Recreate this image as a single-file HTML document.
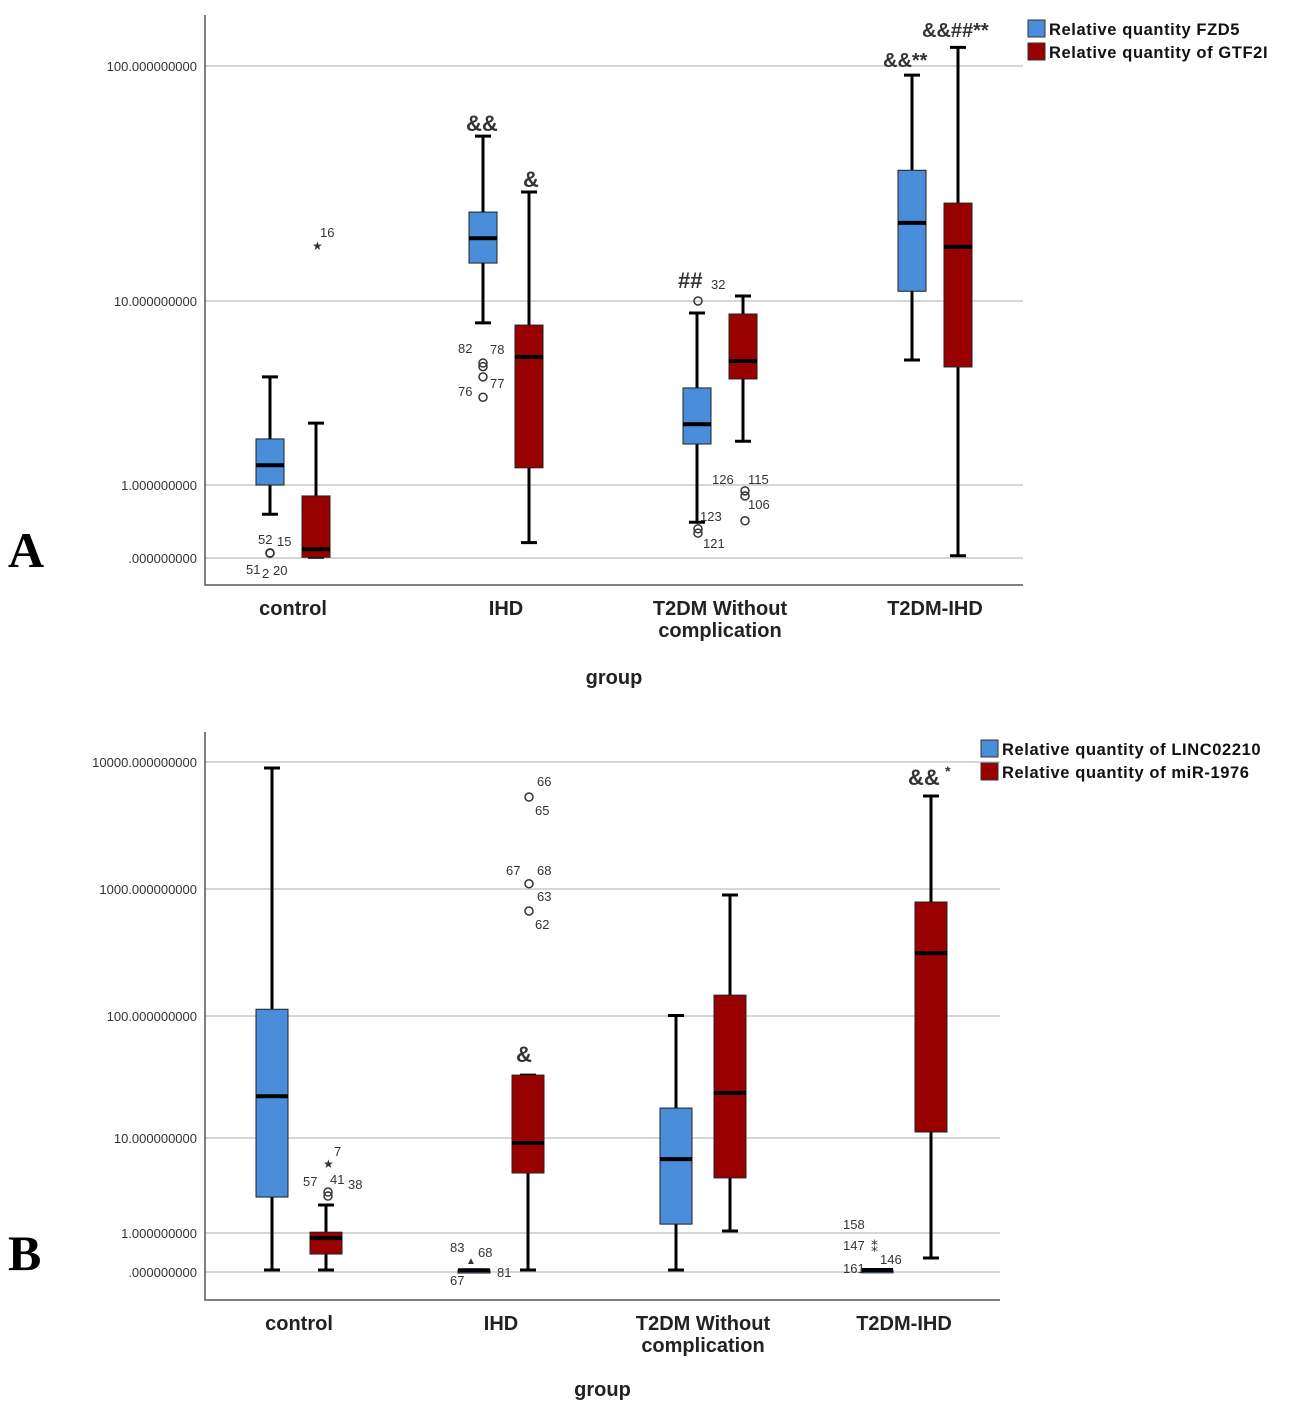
<!DOCTYPE html>
<html><head><meta charset="utf-8"><style>
body{margin:0;background:#fff;}
svg{display:block;font-family:"Liberation Sans",Arial,sans-serif;}
</style></head><body>
<svg id="s" width="1303" height="1408" viewBox="0 0 1303 1408" xmlns="http://www.w3.org/2000/svg"></svg>
<script>
// ---- Panel A data ----
const groupsA = ["control","IHD","T2DM Without|complication","T2DM-IHD"];
const fzd5 = [[0.6,1.0,1.28,1.78,3.87],[7.6,14.5,18.5,23.9,50.3],[0.49,1.67,2.14,3.37,8.6],[4.78,11,21.5,36,91.5]];
const gtf2i = [[0.01,0.01,0.12,0.85,2.17],[0.21,1.24,4.96,7.4,29.1],[1.73,3.77,4.72,8.5,10.5],[0.03,4.38,17,26.1,120]];
const ticksA = [0,1,10,100];
const tickLabA = [".000000000","1.000000000","10.000000000","100.000000000"];
const outA = [[0,0.07,"o"],[0,0.065,"o"],[1,4.6,"o"],[1,4.4,"o"],[1,3.87,"o"],[1,3.0,"o"],[2,10,"o"],[2,0.4,"o"],[2,0.34,"o"],[3,0.92,"o"],[3,0.85,"o"],[3,0.51,"o"]];
// ---- Panel B data ----
const groupsB = ["control","IHD","T2DM Without|complication","T2DM-IHD"];
const linc = [[0.05,2.39,22,113,8970],[0.04,0.04,0.045,0.05,0.055],[0.05,1.24,6.0,17.6,101],[0.04,0.045,0.05,0.055,0.06]];
const mir = [[0.05,0.46,0.87,1.02,1.97],[0.05,4.28,8.86,32.8,32.8],[1.05,3.8,23.4,146,897],[0.36,11.2,313,790,5400]];
const ticksB = [0,1,10,100,1000,10000];
const tickLabB = [".000000000","1.000000000","10.000000000","100.000000000","1000.000000000","10000.000000000"];

const S=document.getElementById('s');
const NS="http://www.w3.org/2000/svg";
function el(t,a,txt){const e=document.createElementNS(NS,t);for(const k in a)e.setAttribute(k,a[k]);if(txt!=null)e.textContent=txt;S.appendChild(e);return e;}
function axisFn(tv,tp){return v=>{if(v<=tv[1])return tp[0]+(tp[1]-tp[0])*v/tv[1];
 for(let i=1;i<tv.length-1;i++){if(v<=tv[i+1]||i==tv.length-2){const f=(Math.log10(v)-Math.log10(tv[i]))/(Math.log10(tv[i+1])-Math.log10(tv[i]));return tp[i]+(tp[i+1]-tp[i])*f;}}};}
const yA=axisFn(ticksA,[558,485,301,66]);
const yB=axisFn(ticksB,[1272,1233,1138,1016,889,762]);
const BLUE="#4a8ddb",RED="#990000";

function panel(P){
 let e=el('rect',{x:P.x0,y:P.y0,width:P.x1-P.x0,height:P.y1-P.y0,fill:'none',stroke:'none'});
 
 P.ticks.forEach((t,i)=>{const y=P.y(t);
  e=el('line',{x1:P.x0,x2:P.x1,y1:y,y2:y,stroke:'#c8c8c8','stroke-width':1.5});
  
  e=el('text',{x:P.x0-8,y:y+5,'text-anchor':'end','font-size':13,fill:'#333'},P.tlab[i]);
  
 });
 e=el('path',{d:`M${P.x0} ${P.y0}V${P.y1}H${P.x1}`,fill:'none',stroke:'#555','stroke-width':1.5});
 
 P.groups.forEach((g,i)=>{const cx=P.cx[i];const lines=g.split('|');
  lines.forEach((l,j)=>{e=el('text',{x:cx,y:P.y1+30+j*22,'text-anchor':'middle','font-size':20,'font-weight':'bold',fill:'#222'},l);
   });
  [[P.s1,-P.off,BLUE],[P.s2,P.off,RED]].forEach(([s,o,c])=>{const d=s[i];const x=cx+o,w=P.bw;
   e=el('path',{d:`M${x} ${P.y(d[0])}V${P.y(d[1])}M${x} ${P.y(d[3])}V${P.y(d[4])}M${x-8} ${P.y(d[0])}H${x+8}M${x-8} ${P.y(d[4])}H${x+8}`,stroke:'#000','stroke-width':3});
   
   e=el('rect',{x:x-w/2,y:P.y(d[3]),width:w,height:Math.max(3,P.y(d[1])-P.y(d[3])),fill:c,stroke:'#222','stroke-width':1});
   
   e=el('line',{x1:x-w/2,x2:x+w/2,y1:P.y(d[2]),y2:P.y(d[2]),stroke:'#000','stroke-width':4});
   
  });
 });
 e=el('text',{x:(P.x0+P.x1)/2+0,y:P.gy,'text-anchor':'middle','font-size':20,'font-weight':'bold',fill:'#222'},'group');
 
 e=el('text',{x:8,y:P.ly,'font-size':50,'font-weight':'bold','font-family':'Liberation Serif,serif'},P.letter);
 
 P.leg.forEach((t,j)=>{const y=P.legY+j*23;
  e=el('rect',{x:P.legX,y:y,width:17,height:17,fill:j?RED:BLUE,stroke:'#333'});
  
  e=el('text',{x:P.legX+21,y:y+15,'font-size':16.5,'font-weight':'bold',fill:'#111','letter-spacing':0.6},t);
  
 });
}
const PA={id:'a',x0:205,x1:1023,y0:15,y1:585,y:yA,ticks:ticksA,tlab:tickLabA,groups:groupsA,cx:[293,506,720,935],off:23,bw:28,s1:fzd5,s2:gtf2i,gy:684,ly:567,letter:'A',legX:1028,legY:20,leg:['Relative quantity FZD5','Relative quantity of GTF2I']};
const PB={id:'b',x0:205,x1:1000,y0:732,y1:1300,y:yB,ticks:ticksB,tlab:tickLabB,groups:groupsB,cx:[299,501,703,904],off:27,bw:32,s1:linc,s2:mir,gy:1396,ly:1270,letter:'B',legX:981,legY:740,leg:['Relative quantity of  LINC02210','Relative quantity of  miR-1976']};
panel(PA);panel(PB);
function ann(x,y,t,fs,nm,b){const e=el('text',{x:x,y:y,'font-size':fs||13,fill:'#333','font-weight':b?'bold':'normal'},t);}
function circ(x,y){const e=el('circle',{cx:x,cy:y,r:4,fill:'none',stroke:'#333','stroke-width':1.5});}
// Panel A outliers
const oxA=[270,483,698,745];
outA.forEach(o=>circ(o[0]==3?745:oxA[o[0]],yA(o[1])));
ann(312,250,'★',12,'extreme-point');ann(320,237,'16');
ann(258,544,'52');ann(277,546,'15');ann(246,574,'51');ann(262,578,'2');ann(273,575,'20');
ann(458,353,'82');ann(490,354,'78');ann(490,388,'77');ann(458,396,'76');
ann(711,289,'32');ann(700,521,'123');ann(703,548,'121');ann(712,484,'126');ann(748,484,'115');ann(748,509,'106');
// Panel A significance
ann(466,131,'&&',22,'significance-mark',1);ann(523,187,'&',22,'significance-mark',1);ann(678,288,'##',22,'significance-mark',1);
ann(883,67,'&&**',20,'significance-mark',1);ann(922,37,'&&##**',20,'significance-mark',1);
// Panel B outliers
circ(328,yB(2.7));circ(328,yB(2.45));ann(323,1168,'★',12,'extreme-point');
ann(334,1156,'7');ann(303,1186,'57');ann(330,1184,'41');ann(348,1189,'38');
[5300,1100,671].forEach(v=>circ(529,yB(v)));
ann(537,786,'66');ann(535,815,'65');ann(506,875,'67');ann(537,875,'68');ann(537,901,'63');ann(535,929,'62');
ann(450,1252,'83');ann(478,1257,'68');ann(450,1285,'67');ann(497,1277,'81');ann(466,1264,'▲',10,'extreme-point');
ann(843,1229,'158');ann(843,1250,'147');ann(880,1264,'146');ann(843,1273,'161');ann(871,1252,'⁑',14,'extreme-point');
ann(516,1062,'&',22,'significance-mark',1);ann(908,785,'&&',22,'significance-mark',1);ann(945,776,'*',14,'significance-mark',1);
</script>
</body></html>
